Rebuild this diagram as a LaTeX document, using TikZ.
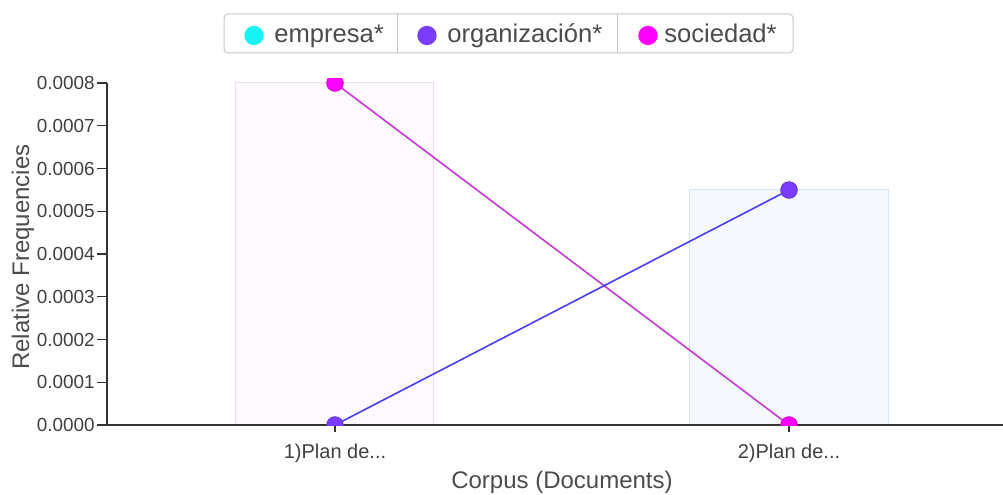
\documentclass[tikz,border=0pt]{standalone}
\usepackage{fontspec}
\setmainfont{Liberation Sans}
\begin{document}
\begin{tikzpicture}[x=0.75pt,y=-0.75pt,
  axisline/.style={draw=black!80,line width=1.125pt},
  ticklab/.style={anchor=east,inner sep=0pt,text=black!75,font=\fontsize{14.2pt}{16pt}\selectfont},
  xlab/.style={inner sep=0pt,text=black!75,font=\fontsize{15pt}{17pt}\selectfont},
  axtitle/.style={inner sep=0pt,text=black!70,font=\fontsize{18pt}{20pt}\selectfont},
  legtext/.style={anchor=base west,inner sep=0pt,text=black!70,font=\fontsize{19.2pt}{22pt}\selectfont},
  legdot/.style={circle,inner sep=0pt,minimum size=14.5pt,fill=#1},
  marker/.style={circle,inner sep=0pt,minimum size=12.5pt,fill=#1,draw=#1!80!black,line width=0.6pt}]
\definecolor{cemp}{HTML}{19F2F2}
\definecolor{corg}{HTML}{7A3CFF}
\definecolor{csoc}{HTML}{FF00FF}
\definecolor{lorg}{HTML}{4A3FF0}
\definecolor{lsoc}{HTML}{C43AD2}
\definecolor{bar1fill}{HTML}{FEF9FE}
\definecolor{bar1draw}{HTML}{F4D6F6}
\definecolor{bar2fill}{HTML}{F5F9FF}
\definecolor{bar2draw}{HTML}{D4E3FB}
\useasboundingbox (0,0) rectangle (1003,495);
% bars
\draw[fill=bar1fill,draw=bar1draw,line width=0.75pt] (235,83) rectangle (433,425);
\draw[fill=bar2fill,draw=bar2draw,line width=0.75pt] (689,190) rectangle (888,425);
% axes
\draw[axisline] (107,83) -- (107,425);
\draw[axisline] (107,425) -- (1003,425);
\foreach \k/\lab in {0/0.0000,1/0.0001,2/0.0002,3/0.0003,4/0.0004,5/0.0005,6/0.0006,7/0.0007,8/0.0008}{
  \draw[axisline,line width=0.9pt] (97,{425-42.75*\k}) -- (107,{425-42.75*\k});
  \node[ticklab] (yt\k) at (95,{425-42.75*\k}) {\lab};
}
\draw[axisline,line width=0.9pt] (335,425) -- (335,432);
\draw[axisline,line width=0.9pt] (789,425) -- (789,432);
\node[xlab] (xl1) at (335,453) {1)Plan de...};
\node[xlab] (xl2) at (789,453) {2)Plan de...};
\node[axtitle] (xtitle) at (562,482) {Corpus (Documents)};
\node[axtitle,rotate=90] (ytitle) at (23,257) {Relative Frequencies};
% data
\coordinate (s1) at (335,83);
\coordinate (s2) at (789,425);
\coordinate (o1) at (335,425);
\coordinate (o2) at (789,190);
\draw[lsoc,line width=1.2pt] (s1) -- (s2);
\draw[lorg,line width=1.2pt] (o1) -- (o2);
\begin{scope}
\clip (107,79) rectangle (1003,425);
\node[marker=csoc] (s1m) at (s1) {};
\node[marker=csoc] (s2m) at (s2) {};
\node[marker=corg] (o1m) at (o1) {};
\node[marker=corg] (o2m) at (o2) {};
\end{scope}
% legend
\draw[draw=black!22,rounded corners=3pt,line width=0.75pt,fill=white] (224,14) rectangle (793,53);
\draw[draw=black!22,line width=0.75pt] (397,14) -- (397,53);
\draw[draw=black!22,line width=0.75pt] (617,14) -- (617,53);
\node[legdot=cemp] (ld1) at (254,35.5) {};
\node[legtext] (lt1) at (274,43) {empresa*};
\node[legdot=corg] (ld2) at (427,35.5) {};
\node[legtext] (lt2) at (447,43) {organización*};
\node[legdot=csoc] (ld3) at (648,35.5) {};
\node[legtext] (lt3) at (664,43) {sociedad*};
\end{tikzpicture}
\end{document}
